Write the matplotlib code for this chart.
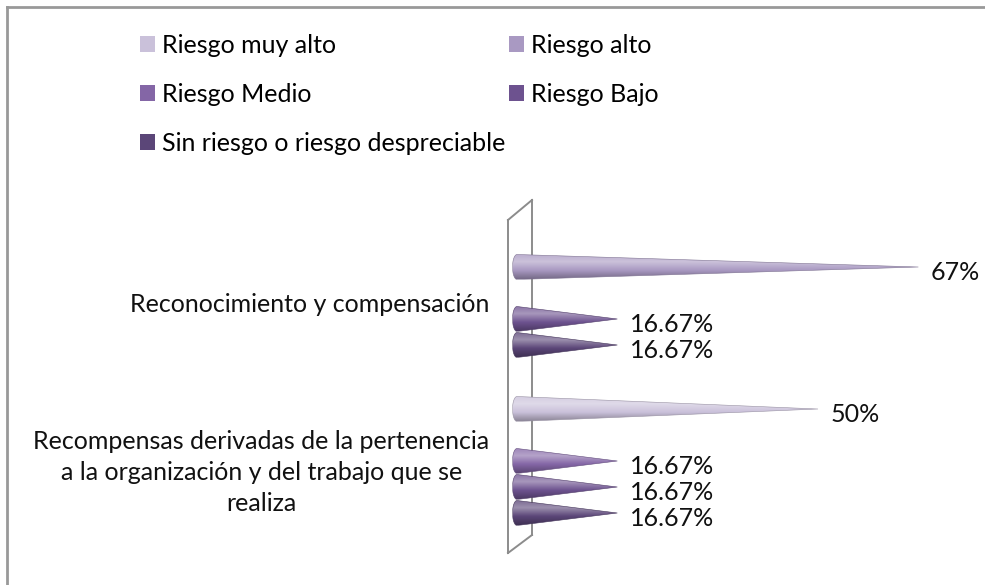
import numpy as np
import matplotlib
matplotlib.use("Agg")
import matplotlib.pyplot as plt
from matplotlib.patches import Patch, Polygon
from matplotlib.lines import Line2D
from matplotlib.colors import LinearSegmentedColormap, to_rgb

plt.rcParams["font.family"] = ["Lato", "DejaVu Sans"]

# ==================================
# Data
# ==================================

categories = [
    "Reconocimiento y compensación",
    "Recompensas derivadas de la pertenencia\na la organización y del trabajo que se\nrealiza",
]
series_names = [
    "Riesgo muy alto",
    "Riesgo alto",
    "Riesgo Medio",
    "Riesgo Bajo",
    "Sin riesgo o riesgo despreciable",
]
muy_alto = [0, 50]
alto = [66.67, 0]
medio = [0, 16.67]
bajo = [16.67, 16.67]
sin_riesgo = [16.67, 16.67]
series_values = [muy_alto, alto, medio, bajo, sin_riesgo]
colors = ["#CAC1DA", "#A999C2", "#8466A6", "#6D528F", "#5B4678"]

# ==================================
# Figure / axes
# ==================================

W, H = 985, 585
FS = 18
fig = plt.figure(figsize=(W / 100, H / 100), dpi=100)

PX = 6.02      # pixels per percent
X0 = 517       # pixel of value 0
YC = 293       # pixel of first category
CAT = 168      # pixels between categories
ax_l, ax_r, ax_t, ax_b = 480, 980, 185, 582
ax = fig.add_axes([ax_l / W, 1 - ax_b / H, (ax_r - ax_l) / W, (ax_b - ax_t) / H])
ax.axis("off")

slot = 26 / CAT
half = 12.5 / CAT
ell_w = 4.5 / PX


def mix(c, other, t):
    c = np.array(to_rgb(c))
    return tuple(c * (1 - t) + np.array(other) * t)


def label_fmt(v):
    return f"{v:.0f}%" if v >= 50 else f"{v:.2f}%"


grad = np.linspace(0, 1, 64).reshape(-1, 1)

for k, (vals, col) in enumerate(zip(series_values, colors)):
    cmap = LinearSegmentedColormap.from_list(
        f"c{k}",
        [(0, mix(col, (1, 1, 1), 0.2)),
         (0.3, mix(col, (1, 1, 1), 0.4)),
         (0.65, to_rgb(col)),
         (1, mix(col, (0, 0, 0), 0.3))],
    )
    for i, v in enumerate(vals):
        if v <= 0:
            continue
        yc = i + (k - 2) * slot
        th = np.linspace(np.pi / 2, 3 * np.pi / 2, 30)
        pts = [(ell_w * np.cos(t), yc - half * np.sin(t)) for t in th]
        pts.append((v, yc))
        poly = Polygon(pts, closed=True, facecolor="none",
                       edgecolor=mix(col, (0, 0, 0), 0.25), lw=0.4, zorder=4)
        ax.add_patch(poly)
        im = ax.imshow(grad, cmap=cmap, aspect="auto", zorder=3,
                       extent=(-ell_w, v, yc + half, yc - half),
                       interpolation="bilinear")
        im.set_clip_path(poly)
        ax.annotate(label_fmt(v), xy=(v, yc), xytext=(9, -4),
                    textcoords="offset points", ha="left", va="center",
                    fontsize=FS, color="#111111")

# category labels
for i, name in enumerate(categories):
    ax.annotate(name, xy=(0, i), xytext=(-20, -8), textcoords="offset points",
                ha="right", va="center", multialignment="center",
                fontsize=FS, linespacing=1.42, color="#111111",
                annotation_clip=False)

# 3D wall outline
wl, wr = (508 - X0) / PX, (532 - X0) / PX
w_top_l, w_bot_l = (220 - YC) / CAT, (553 - YC) / CAT
w_top_r, w_bot_r = (200 - YC) / CAT, (535 - YC) / CAT
wall = "#8c8c8c"
ax.plot([wr, wr], [w_top_r, w_bot_r], color=wall, lw=1.4, zorder=1)
ax.plot([wl, wl], [w_top_l, w_bot_l], color=wall, lw=1.4, zorder=2)
ax.plot([wl, wr], [w_top_l, w_top_r], color=wall, lw=1.4, zorder=2)
ax.plot([wl, wr], [w_bot_l, w_bot_r], color=wall, lw=1.4, zorder=2)

ax.set_xlim((ax_l - X0) / PX, (ax_r - X0) / PX)
ax.set_ylim((ax_b - YC) / CAT, (ax_t - YC) / CAT)

# ==================================
# Legend
# ==================================

handles = [Patch(facecolor=c, edgecolor="none") for c in colors]
order = [0, 2, 4, 1, 3]
fig.legend([handles[j] for j in order], [series_names[j] for j in order],
           loc="upper left", bbox_to_anchor=(140 / W, 1 - 34 / H),
           ncol=2, frameon=False, fontsize=FS,
           handlelength=0.6, handleheight=0.6, handletextpad=0.3,
           labelspacing=1.04, columnspacing=0.12, borderpad=0, borderaxespad=0)

# chart border (top and left only visible)
fig.add_artist(Line2D([7 / W, 1], [1 - 7 / H] * 2, color="#999999", lw=2))
fig.add_artist(Line2D([7 / W] * 2, [0, 1 - 7 / H], color="#999999", lw=2))

fig.savefig("out.png", dpi=100)
